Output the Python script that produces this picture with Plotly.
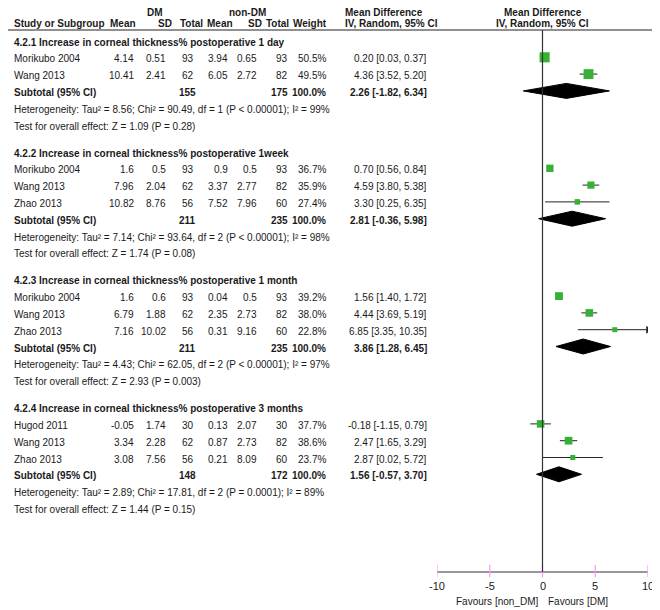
import plotly.graph_objects as go

# study level data
group_titles = [
    "4.2.1 Increase in corneal thickness% postoperative 1 day",
    "4.2.2 Increase in corneal thickness% postoperative 1week",
    "4.2.3 Increase in corneal thickness% postoperative 1 month",
    "4.2.4 Increase in corneal thickness% postoperative 3 months",
]
study_group = [0, 0, 1, 1, 1, 2, 2, 2, 3, 3, 3]
studies = ["Morikubo 2004", "Wang 2013",
           "Morikubo 2004", "Wang 2013", "Zhao 2013",
           "Morikubo 2004", "Wang 2013", "Zhao 2013",
           "Hugod 2011", "Wang 2013", "Zhao 2013"]
dm_mean = [4.14, 10.41, 1.6, 7.96, 10.82, 1.6, 6.79, 7.16, -0.05, 3.34, 3.08]
dm_sd = [0.51, 2.41, 0.5, 2.04, 8.76, 0.6, 1.88, 10.02, 1.74, 2.28, 7.56]
dm_n = [93, 62, 93, 62, 56, 93, 62, 56, 30, 62, 56]
non_mean = [3.94, 6.05, 0.9, 3.37, 7.52, 0.04, 2.35, 0.31, 0.13, 0.87, 0.21]
non_sd = [0.65, 2.72, 0.5, 2.77, 7.96, 0.5, 2.73, 9.16, 2.07, 2.73, 8.09]
non_n = [93, 82, 93, 82, 60, 93, 82, 60, 30, 82, 60]
weight = [50.5, 49.5, 36.7, 35.9, 27.4, 39.2, 38.0, 22.8, 37.7, 38.6, 23.7]
md = [0.20, 4.36, 0.70, 4.59, 3.30, 1.56, 4.44, 6.85, -0.18, 2.47, 2.87]
md_lo = [0.03, 3.52, 0.56, 3.80, 0.25, 1.40, 3.69, 3.35, -1.15, 1.65, 0.02]
md_hi = [0.37, 5.20, 0.84, 5.38, 6.35, 1.72, 5.19, 10.35, 0.79, 3.29, 5.72]

# subgroup totals
sub_dm_n = [155, 211, 211, 148]
sub_non_n = [175, 235, 235, 172]
sub_md = [2.26, 2.81, 3.86, 1.56]
sub_lo = [-1.82, -0.36, 1.28, -0.57]
sub_hi = [6.34, 5.98, 6.45, 3.70]
heterogeneity = [
    "Heterogeneity: Tau² = 8.56; Chi² = 90.49, df = 1 (P < 0.00001); I² = 99%",
    "Heterogeneity: Tau² = 7.14; Chi² = 93.64, df = 2 (P < 0.00001); I² = 98%",
    "Heterogeneity: Tau² = 4.43; Chi² = 62.05, df = 2 (P < 0.00001); I² = 97%",
    "Heterogeneity: Tau² = 2.89; Chi² = 17.81, df = 2 (P = 0.0001); I² = 89%",
]
overall = [
    "Test for overall effect: Z = 1.09 (P = 0.28)",
    "Test for overall effect: Z = 1.74 (P = 0.08)",
    "Test for overall effect: Z = 2.93 (P = 0.003)",
    "Test for overall effect: Z = 1.44 (P = 0.15)",
]
axis_ticks = [-10, -5, 0, 5, 10]
x_min, x_max = -10, 10

W, H = 660, 610
OFF = 8  # page body margin, the figure starts 8px in
FONT = "Liberation Sans, Arial, sans-serif"
FS = 10
TXT = "#1a1a1a"
GREEN = "#36b036"

# column right edges (pixels) for the table part
col_right = [136, 168, 196, 230, 259, 290, 328]
head_right = [138, 174, 205, 235, 264, 291, 329]
ci_right = 429

fig = go.Figure()
ann = []


def txt(x, y, s, anchor="left", bold=False, xref="x", size=FS):
    ann.append(dict(x=x, y=y, xref=xref, yref="y", text=f"<b>{s}</b>" if bold else s,
                    showarrow=False, xanchor=anchor, yanchor="middle",
                    font=dict(family=FONT, size=size, color=TXT)))


# header
top_y, head_y = 12.5, 23.5
txt(155, top_y, "DM", "center", True)
txt(247, top_y, "non-DM", "center", True)
txt(343, top_y, "Mean Difference", "left", True)
txt(0, top_y, "Mean Difference", "center", True, xref="x2")
txt(12, head_y, "Study or Subgroup", "left", True)
for name, xr in zip(["Mean", "SD", "Total", "Mean", "SD", "Total", "Weight"], head_right):
    txt(xr, head_y, name, "right", True)
txt(343, head_y, "IV, Random, 95% CI", "left", True)
txt(0, head_y, "IV, Random, 95% CI", "center", True, xref="x2")

shapes = [
    dict(type="line", xref="x", yref="y", x0=OFF, x1=W, y0=30, y1=30,
         line=dict(color="#222", width=1.2)),
]

row_step, group_gap = 16.8, 27
y = 42
zero_top = 30
for g, title in enumerate(group_titles):
    txt(12, y, title, "left", True)
    y += row_step
    for i in [k for k, s in enumerate(study_group) if s == g]:
        cells = [dm_mean[i], dm_sd[i], dm_n[i], non_mean[i], non_sd[i], non_n[i]]
        txt(12, y, studies[i])
        for v, xr in zip(cells, col_right):
            txt(xr, y, str(v), "right")
        txt(col_right[6], y, f"{weight[i]:.1f}%", "right")
        txt(ci_right, y, f"{md[i]:.2f} [{md_lo[i]:.2f}, {md_hi[i]:.2f}]", "right")
        # CI line, clipped at the axis limit with an arrow
        hi = min(md_hi[i], x_max)
        fig.add_trace(go.Scatter(x=[md_lo[i], hi], y=[y - 1.5, y - 1.5], xaxis="x2",
                                 mode="lines", line=dict(color="#222", width=1),
                                 hoverinfo="skip", showlegend=False))
        if md_hi[i] > x_max:
            fig.add_trace(go.Scatter(x=[x_max], y=[y - 1.5], xaxis="x2", mode="markers",
                                     marker=dict(symbol="triangle-right", size=7, color="#222"),
                                     hoverinfo="skip", showlegend=False))
        fig.add_trace(go.Scatter(x=[md[i]], y=[y - 1.5], xaxis="x2", mode="markers",
                                 marker=dict(symbol="square", size=max(5, weight[i] / 5),
                                             color=GREEN, line=dict(width=0)),
                                 hoverinfo="skip", showlegend=False))
        y += row_step
    # subtotal
    txt(12, y, "Subtotal (95% CI)", "left", True)
    txt(col_right[2] + 2, y, str(sub_dm_n[g]), "right", True)
    txt(col_right[5], y, str(sub_non_n[g]), "right", True)
    txt(col_right[6], y, "100.0%", "right", True)
    txt(ci_right, y, f"{sub_md[g]:.2f} [{sub_lo[g]:.2f}, {sub_hi[g]:.2f}]", "right", True)
    yd = y - 1.5
    fig.add_trace(go.Scatter(x=[sub_lo[g], sub_md[g], sub_hi[g], sub_md[g], sub_lo[g]],
                             y=[yd, yd - 7.5, yd, yd + 7.5, yd], xaxis="x2",
                             mode="lines", fill="toself", fillcolor="black",
                             line=dict(color="black", width=1),
                             hoverinfo="skip", showlegend=False))
    y += row_step
    txt(12, y, heterogeneity[g])
    y += row_step
    txt(12, y, overall[g])
    y += group_gap

axis_y = 572
shapes.append(dict(type="line", xref="x2", yref="y", x0=0, x1=0, y0=zero_top, y1=axis_y,
                   line=dict(color="#333", width=1.2)))

# bottom axis: line with crossing ticks
fig.add_trace(go.Scatter(x=[x_min, x_max], y=[axis_y, axis_y], xaxis="x2", mode="lines",
                         line=dict(color="#333", width=1.2), hoverinfo="skip", showlegend=False))
fig.add_trace(go.Scatter(x=axis_ticks, y=[axis_y - 1] * len(axis_ticks), xaxis="x2",
                         mode="markers",
                         marker=dict(symbol="line-ns-open", size=9,
                                     line=dict(color="#333", width=1.2)),
                         hoverinfo="skip", showlegend=False))
for t in axis_ticks:
    txt(t, axis_y + 14, str(t), "center", xref="x2", size=11)
ann.append(dict(x=0, y=axis_y + 29, xref="x2", yref="y", text="Favours [non_DM]",
                showarrow=False, xanchor="right", xshift=-3, yanchor="middle",
                font=dict(family=FONT, size=FS, color=TXT)))
ann.append(dict(x=0, y=axis_y + 29, xref="x2", yref="y", text="Favours [DM]",
                showarrow=False, xanchor="left", xshift=3, yanchor="middle",
                font=dict(family=FONT, size=FS, color=TXT)))

fw, fh = W - OFF, H - OFF
fig.update_layout(
    width=fw, height=fh,
    margin=dict(l=0, r=0, t=0, b=0),
    plot_bgcolor="rgba(0,0,0,0)", paper_bgcolor="white",
    xaxis=dict(range=[OFF, W], domain=[0, 1], visible=False, anchor="y"),
    xaxis2=dict(range=[x_min, x_max], domain=[(437 - OFF) / fw, (648 - OFF) / fw], anchor="y",
                visible=False),
    yaxis=dict(range=[H, OFF], domain=[0, 1], visible=False),
    annotations=ann,
    shapes=shapes,
    showlegend=False,
)

fig.write_html("out.html")
